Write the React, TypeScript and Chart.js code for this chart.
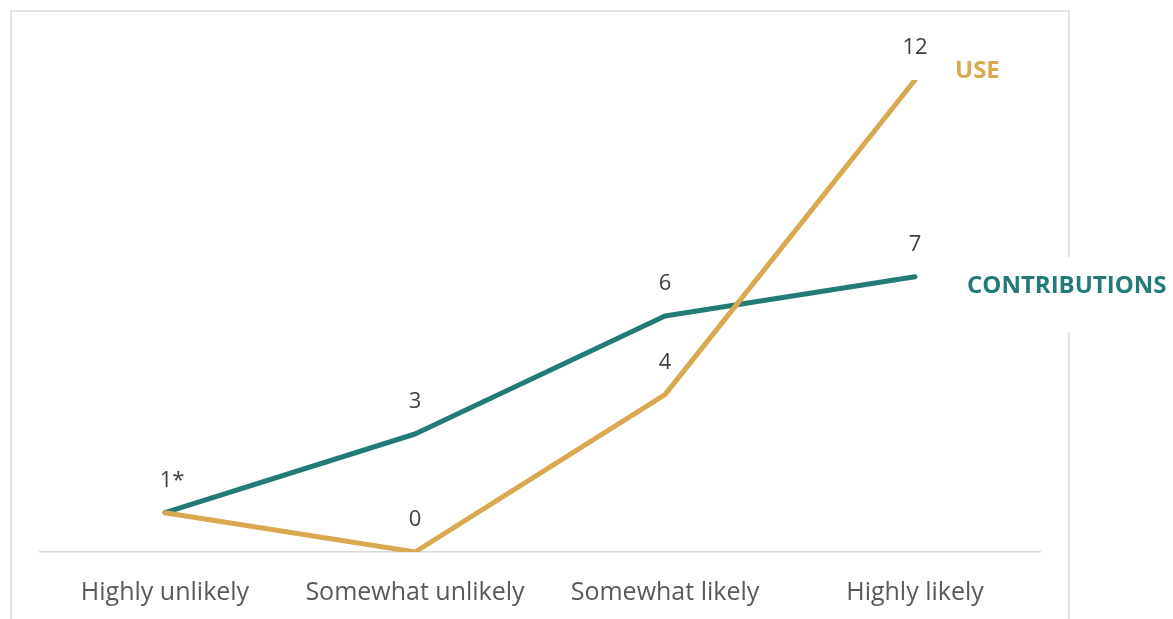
import React, { useEffect, useRef } from "react";
import { Chart, registerables } from "chart.js";

Chart.register(...registerables);

const categories = ["Highly unlikely", "Somewhat unlikely", "Somewhat likely", "Highly likely"];
const useValues = [1, 0, 4, 12];
const contributionValues = [1, 3, 6, 7];
const useLabels = ["", "0", "4", "12"];
const contributionLabels = ["1*", "3", "6", "7"];
const seriesNames = ["USE", "CONTRIBUTIONS"];

const GOLD = "#D9A84F";
const TEAL = "#237B77";
const FONT = "'Open Sans', Lato, sans-serif";

const framePlugin = {
  id: "frame",
  beforeDraw(chart: any) {
    const ctx = chart.ctx;
    ctx.save();
    ctx.fillStyle = "#ffffff";
    ctx.fillRect(0, 0, chart.width, chart.height);
    ctx.strokeStyle = "#d9d9d9";
    ctx.lineWidth = 1.5;
    ctx.beginPath();
    ctx.moveTo(11, chart.height);
    ctx.lineTo(11, 11);
    ctx.lineTo(1069, 11);
    ctx.lineTo(1069, 257);
    ctx.moveTo(1069, 332);
    ctx.lineTo(1069, chart.height);
    ctx.stroke();
    ctx.restore();
  },
};

const labelPlugin = {
  id: "valueLabels",
  afterDatasetsDraw(chart: any) {
    const ctx = chart.ctx;
    ctx.save();
    const sets = [
      { idx: 0, labels: useLabels, color: GOLD, name: seriesNames[0], dx: 40, dy: -9 },
      { idx: 1, labels: contributionLabels, color: TEAL, name: seriesNames[1], dx: 52, dy: 9 },
    ];
    sets.forEach((s) => {
      const meta = chart.getDatasetMeta(s.idx);
      meta.data.forEach((pt: any, i: number) => {
        const txt = s.labels[i];
        if (!txt) return;
        ctx.font = `22px ${FONT}`;
        ctx.fillStyle = "#404040";
        ctx.textAlign = "center";
        ctx.textBaseline = "middle";
        const off = txt.length > 1 && txt.endsWith("*") ? 7 : 0;
        ctx.fillText(txt, pt.x + off, pt.y - 32);
      });
      const last = meta.data[meta.data.length - 1];
      ctx.font = `bold 24px ${FONT}`;
      ctx.fillStyle = s.color;
      ctx.textAlign = "left";
      ctx.textBaseline = "middle";
      ctx.fillText(s.name, last.x + s.dx, last.y + s.dy);
    });
    ctx.restore();
  },
};

export default function App() {
  const ref = useRef<HTMLCanvasElement>(null);
  useEffect(() => {
    if (!ref.current) return;
    const chart = new Chart(ref.current, {
      type: "line",
      data: {
        labels: categories,
        datasets: [
          {
            label: seriesNames[0],
            data: useValues,
            borderColor: GOLD,
            backgroundColor: GOLD,
            borderWidth: 5,
            pointRadius: 0,
            borderCapStyle: "round",
            borderJoinStyle: "round",
            tension: 0,
          },
          {
            label: seriesNames[1],
            data: contributionValues,
            borderColor: TEAL,
            backgroundColor: TEAL,
            borderWidth: 5,
            pointRadius: 0,
            borderCapStyle: "round",
            borderJoinStyle: "round",
            tension: 0,
          },
        ],
      },
      options: {
        animation: false,
        responsive: true,
        maintainAspectRatio: false,
        layout: { padding: { left: 40, right: 133, top: 80, bottom: 0 } },
        plugins: { legend: { display: false }, tooltip: { enabled: false }, title: { display: false } },
        scales: {
          x: {
            offset: true,
            grid: { display: false, drawTicks: false },
            border: { display: true, color: "#d9d9d9", width: 1.5 },
            ticks: { color: "#595959", font: { family: FONT, size: 25 }, padding: 26, maxRotation: 0 },
            afterFit: (scale: any) => {
              scale.height = 67;
            },
          },
          y: { display: false, min: 0, max: 12 },
        },
      },
      plugins: [framePlugin, labelPlugin],
    });
    return () => chart.destroy();
  }, []);
  return (
    <div style={{ position: "absolute", left: 0, top: 0, width: 1173, height: 619 }}>
      <canvas ref={ref} />
    </div>
  );
}
